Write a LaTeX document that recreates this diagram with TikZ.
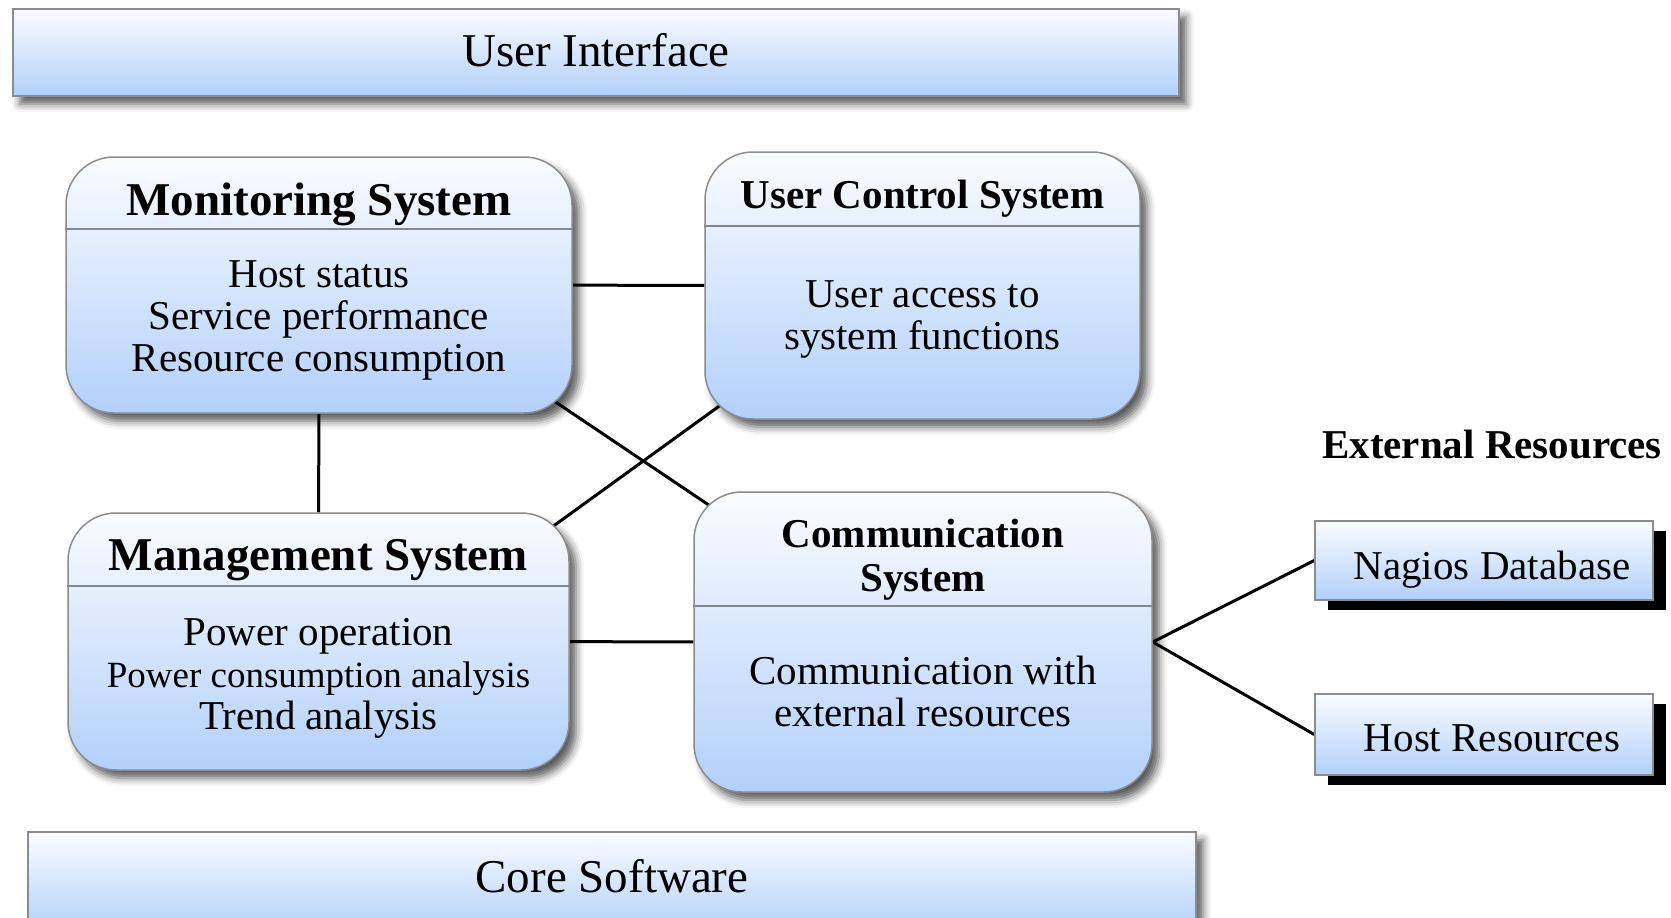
\documentclass[tikz,border=0pt]{standalone}
\usepackage{fontspec}
\setmainfont{Liberation Serif}
\usetikzlibrary{calc,shadows,shadows.blur,backgrounds}

\definecolor{boxtop}{RGB}{250,252,255}
\definecolor{boxbot}{RGB}{178,208,250}
\definecolor{edgegray}{RGB}{140,140,140}
\definecolor{rulegray}{RGB}{130,135,140}

\newcommand\barfont{\fontsize{47}{54}\selectfont}
\newcommand\headfont{\fontsize{47}{52}\selectfont\bfseries}
\newcommand\headfontsm{\fontsize{41}{44}\selectfont\bfseries}
\newcommand\bodyfont{\fontsize{41}{42}\selectfont}
\newcommand\bodyfontsm{\fontsize{37}{39}\selectfont}

\tikzset{
  panel/.style={draw=edgegray, line width=1.5pt, top color=boxtop, bottom color=boxbot,
    inner sep=0pt,
    blur shadow={shadow xshift=7pt, shadow yshift=-8pt, shadow blur radius=8pt, shadow opacity=65}},
  sysbox/.style={panel, rounded corners=48pt},
  barbox/.style={panel},
  extbox/.style={draw=edgegray, line width=1.5pt, top color=boxtop, bottom color=boxbot,
    inner sep=0pt, minimum width=338pt,
    drop shadow={shadow xshift=13pt, shadow yshift=-10pt, fill=black, opacity=1}},
  txt/.style={inner sep=0pt, align=center},
  divider/.style={draw=rulegray, line width=2pt},
  link/.style={draw=black, line width=3pt}
}

\begin{document}
\begin{tikzpicture}[x=1pt, y=-1pt]
\useasboundingbox (0,0) rectangle (1671,918);

% layer bars
\node[barbox, minimum width=1166pt, minimum height=87pt] (ui) at (596,52.5) {};
\node[txt, font=\barfont] (uitxt) at (596,50) {User Interface};

\node[barbox, minimum width=1168pt, minimum height=100pt] (core) at (612,882) {};
\node[txt, font=\barfont] (coretxt) at (612,876) {Core Software};

% subsystem boxes
\node[sysbox, minimum width=506pt, minimum height=256pt] (mon) at (319,285) {};
\node[sysbox, minimum width=435pt, minimum height=267pt] (uc) at (922.5,285.5) {};
\node[sysbox, minimum width=501pt, minimum height=257pt] (mgmt) at (318.5,641.5) {};
\node[sysbox, minimum width=458pt, minimum height=300pt] (comm) at (923,642) {};

\draw[divider] ($(mon.north west)+(0,73)$) -- ($(mon.north east)+(0,73)$);
\draw[divider] ($(uc.north west)+(0,75)$) -- ($(uc.north east)+(0,75)$);
\draw[divider] ($(mgmt.north west)+(0,74)$) -- ($(mgmt.north east)+(0,74)$);
\draw[divider] ($(comm.north west)+(0,115)$) -- ($(comm.north east)+(0,115)$);

\node[txt, font=\headfont] (monhead) at (319,204) {Monitoring System};
\node[txt, font=\bodyfont] (monbody) at (319,320) {Host status\\Service performance\\Resource consumption};

\node[txt, font=\headfontsm] (uchead) at (922.5,199) {User Control System};
\node[txt, font=\bodyfont] (ucbody) at (922.5,319) {User access to\\system functions};

\node[txt, font=\headfont] (mgmthead) at (318.5,560) {Management System};
\node[txt, font=\bodyfont] (mgmtbody) at (318.5,678)
  {Power operation\\{\bodyfontsm Power consumption analysis}\\Trend analysis};

\node[txt, font=\headfontsm] (commhead) at (923,560) {Communication\\System};
\node[txt, font=\bodyfont] (commbody) at (923,691) {Communication with\\external resources};

% external resources
\node[txt, font=\headfontsm] (extlabel) at (1492,445) {External Resources};
\node[extbox, minimum height=79pt] (nag) at (1484,560.5) {};
\node[txt, font=\bodyfont] (nagtxt) at (1492,570) {Nagios Database};
\node[extbox, minimum height=81pt] (host) at (1484,734.5) {};
\node[txt, font=\bodyfont] (hosttxt) at (1492,738) {Host Resources};

% connectors, behind the boxes
\begin{scope}[on background layer]
  \draw[link] (mon) -- (uc);
  \draw[link] (mon) -- (mgmt);
  \draw[link] (mgmt) -- (comm);
  \draw[link] ($(mon.center)+(0,-42)$) -- ($(comm.center)+(0,7)$);
  \draw[link] ($(uc.center)+(0,-26.5)$) -- ($(mgmt.center)+(0,54.5)$);
  \draw[link] (comm.east) -- (nag.west);
  \draw[link] (comm.east) -- (host.west);
\end{scope}
\end{tikzpicture}
\end{document}
